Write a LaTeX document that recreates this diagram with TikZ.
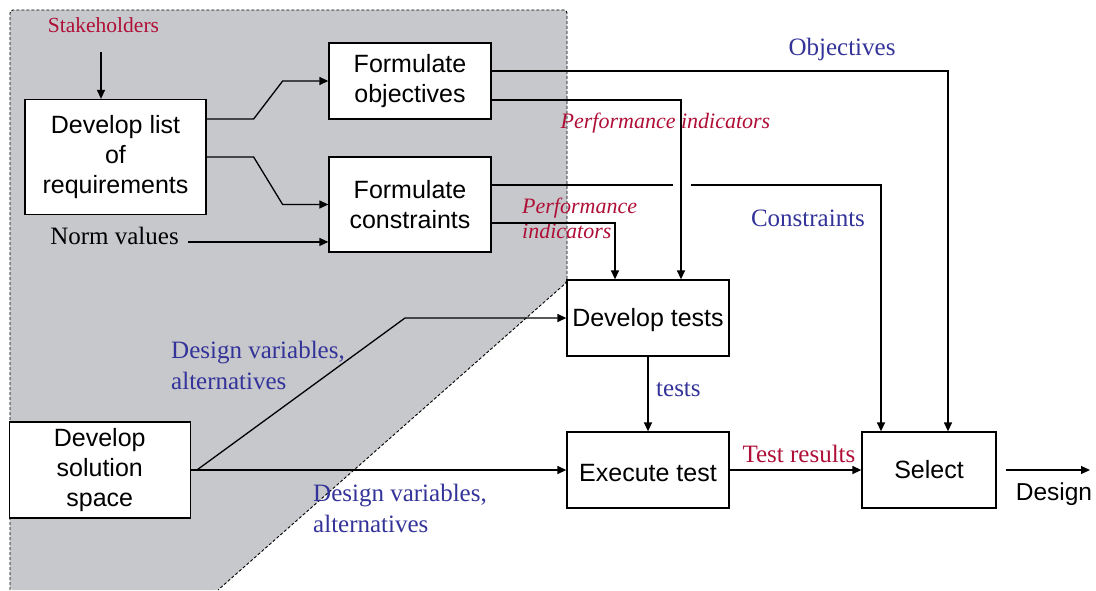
\documentclass[tikz,border=0pt]{standalone}
\usepackage{fontspec}
\setmainfont{Liberation Serif}
\setsansfont{Liberation Sans}
\usetikzlibrary{arrows.meta}
\definecolor{lblblue}{RGB}{51,51,153}
\definecolor{lblred}{RGB}{175,15,55}
\definecolor{zone}{RGB}{199,200,204}
\begin{document}
\begin{tikzpicture}[x=1pt,y=-1pt,
  % the argument is the height of the first text line, which sets how low the text sits
  box/.style={draw, line width=1.3pt, fill=white, align=center, inner sep=0pt,
              font=\sffamily\fontsize{25}{30}\selectfont,
              execute at begin node={\rule{0pt}{#1}}},
  box/.default=18pt,
  conn/.style={line width=1.3pt},
  arr/.style={conn, -{Triangle[length=9pt,width=8pt]}},
  bluelbl/.style={text=lblblue, inner sep=0pt, font=\fontsize{25}{31}\selectfont},
  redlbl/.style={text=lblred, inner sep=0pt, font=\fontsize{25}{31}\selectfont},
  redit/.style={text=lblred, inner sep=0pt, font=\itshape\fontsize{22}{25}\selectfont},
]
\useasboundingbox (0,0) rectangle (1096,590);

% shaded problem-definition zone
\fill[zone, rounded corners=3pt] (10,590) -- (10,10) -- (567,10) -- (567,282) -- (218,590) -- cycle;
\draw[dash pattern=on 3pt off 2pt, line width=0.9pt, rounded corners=3pt]
  (10,590) -- (10,10) -- (567,10) -- (567,282) -- (218,590);

% process boxes
\node[box=21.2pt, minimum width=181pt, minimum height=115pt] (req) at (115.5,157) {Develop list\\of\\requirements};
\node[box=25.5pt, minimum width=162pt, minimum height=76pt]  (obj) at (410,81) {Formulate\\objectives};
\node[box=19.2pt, minimum width=162pt, minimum height=95pt]  (con) at (410,204.5) {Formulate\\constraints};
\node[box=22.6pt, minimum width=162pt, minimum height=76pt]  (tst) at (648,318) {Develop tests};
\node[box=23.8pt, minimum width=162pt, minimum height=76pt]  (exe) at (648,470) {Execute test};
\node[box, minimum width=134pt, minimum height=76pt]  (sel) at (929,470) {Select};
\node[box=19.2pt, minimum width=181pt, minimum height=96pt]  (sol) at (99.75,470) {Develop\\solution\\space};

% free labels
\node[redlbl, font=\fontsize{21.5}{26}\selectfont, anchor=base] (stk) at (103.5,32) {Stakeholders};
\node[inner sep=0pt, font=\fontsize{25}{30}\selectfont, anchor=base] (norm) at (114.5,244) {Norm values};
\node[bluelbl, anchor=base] (lobj) at (842,55) {Objectives};
\node[redit, anchor=base] (lpi1) at (665.5,128) {Performance indicators};
\node[redit, anchor=west, align=left] (lpi2) at (522,218) {Performance\\indicators};
\node[bluelbl, anchor=base] (lcon) at (808,226) {Constraints};
\node[bluelbl, anchor=base west] (ltst) at (656,396) {tests};
\node[bluelbl, anchor=west, align=left] (ldv1) at (171,365) {Design variables,\\alternatives};
\node[bluelbl, anchor=west, align=left] (ldv2) at (313,508) {Design variables,\\alternatives};
\node[redlbl, anchor=base] (ltr) at (799,462) {Test results};
\node[inner sep=0pt, font=\sffamily\fontsize{24.5}{30}\selectfont, anchor=base] (ldsg) at (1054,500) {Design};

% connectors
\coordinate (stkA) at (101,52);
\draw[arr] (stkA) -- (stkA |- req.north);
\draw[arr] ([yshift=38pt]req.east) -- ++(47,0) -- ++(29,-38) -- (obj.west);
\draw[arr] (req.east) -- ++(47,0) -- ++(29,47.5) -- (con.west);
\coordinate (nvs) at ([xshift=9pt,yshift=-6.5pt]norm.east);
\draw[arr] (nvs) -- (nvs -| con.west);

\draw[arr] ([yshift=10pt]obj.east) -| ([xshift=19pt]sel.north);
\draw[arr] ([yshift=-19pt]obj.east) -| ([xshift=33pt]tst.north);
\coordinate (jmpA) at (673,185);
\coordinate (jmpB) at (691,185);
\draw[conn] ([yshift=19.5pt]con.east) -- (jmpA);
\draw[arr] (jmpB) -| ([xshift=-48pt]sel.north);
\draw[arr] ([yshift=-18.5pt]con.east) -| ([xshift=-33pt]tst.north);

\coordinate (br) at ([xshift=6pt]sol.east);
\coordinate (kn) at (405,318);
\draw[arr] (br) -- (kn) -- (tst.west);
\draw[arr] (sol.east) -- (exe.west);
\draw[arr] (tst.south) -- (exe.north);
\draw[arr] (exe.east) -- (sel.west);
\coordinate (dsg) at (1090,470);
\draw[arr] ([xshift=9pt]sel.east) -- (dsg);
\end{tikzpicture}
\end{document}
